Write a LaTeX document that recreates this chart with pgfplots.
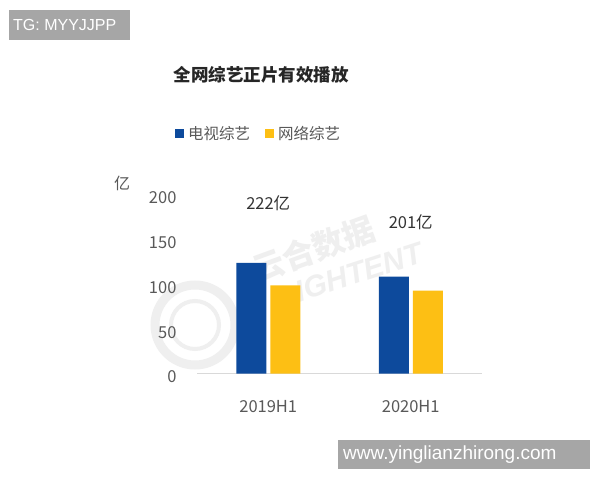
\documentclass[border=0pt]{standalone}
\usepackage{fontspec}
\setmainfont{Noto Sans CJK SC}
\newfontfamily\latin{Liberation Sans}
\usepackage{pgfplots}
\pgfplotsset{compat=1.18}
\definecolor{TVBlue}{HTML}{0D4A9C}
\definecolor{WebYellow}{HTML}{FDBF14}
\definecolor{TextGray}{HTML}{595959}
\definecolor{AxisGray}{HTML}{D9D9D9}
\definecolor{BoxGray}{HTML}{A6A6A6}
\definecolor{Mark}{HTML}{EFEFEF}

\begin{document}
\begin{tikzpicture}[x=1pt,y=1pt]
\fill[white] (0,0) rectangle (600,480);
\useasboundingbox (0,0) rectangle (600,480);
% faint watermark
\draw[Mark,line width=9pt] (195,155) circle (40);
\draw[Mark,line width=4pt] (195,155) circle (24);
\node[Mark,rotate=20,inner sep=0,font=\bfseries\fontsize{32}{32}\selectfont] at (313,231) {云合数据};
\node[Mark,rotate=18,inner sep=0,font=\latin\bfseries\itshape\fontsize{30}{30}\selectfont] at (350,205) {LIGHTENT};
% corner tags
\fill[BoxGray] (9,440) rectangle (130,470);
\node[anchor=west,text=white,inner sep=0,font=\latin\fontsize{16}{16}\selectfont] at (13,455) {TG: MYYJJPP};
\fill[BoxGray] (338,11) rectangle (590,40);
\node[anchor=west,text=white,inner sep=0,font=\latin\fontsize{19}{19}\selectfont] at (343,25.5) {www.yinglianzhirong.com};
% title and unit
\node[font=\bfseries\fontsize{17.5}{17.5}\selectfont,text=black!85] at (261,405) {全网综艺正片有效播放};
\node[font=\fontsize{16}{16}\selectfont,text=TextGray] at (122,297) {亿};
\begin{axis}[
  at={(197pt,106.5pt)},anchor=south west,
  scale only axis,width=285pt,height=179pt,
  xmin=-0.5,xmax=1.5,ymin=0,ymax=200,
  ybar=4pt,bar width=30pt,
  axis lines*=left,
  y axis line style={draw=none},
  x axis line style={-,draw=AxisGray,line width=1pt},
  tick style={draw=none},
  xtick={0,1},xticklabels={2019H1,2020H1},
  ytick={0,50,...,200},
  /pgf/number format/assume math mode=true,
  ticklabel style={font=\fontsize{16.5}{16.5}\selectfont,text=TextGray},
  yticklabel style={xshift=-17pt,yshift=-3.5pt},
  xticklabel style={yshift=-19pt},
  legend columns=2,
  legend style={at={(0.216,1.342)},anchor=center,draw=none,fill=none,
    font=\fontsize{15.5}{15.5}\selectfont,text=TextGray,
    /tikz/every odd column/.append style={column sep=2pt},
    /tikz/every even column/.append style={column sep=13pt}},
  legend image code/.code={\fill[#1] (0pt,-4.5pt) rectangle (9pt,4.5pt);},
  clip=false]
\addplot[fill=TVBlue,draw=none] coordinates {(0,123.6) (1,108.3)};
\addplot[fill=WebYellow,draw=none] coordinates {(0,98.4) (1,92.7)};
\legend{电视综艺,网络综艺}
\node[font=\fontsize{16.5}{16.5}\selectfont,text=black!80] at (axis cs:0,190.5) {222亿};
\node[font=\fontsize{16.5}{16.5}\selectfont,text=black!80] at (axis cs:1,169.3) {201亿};
\end{axis}
\end{tikzpicture}
\end{document}
